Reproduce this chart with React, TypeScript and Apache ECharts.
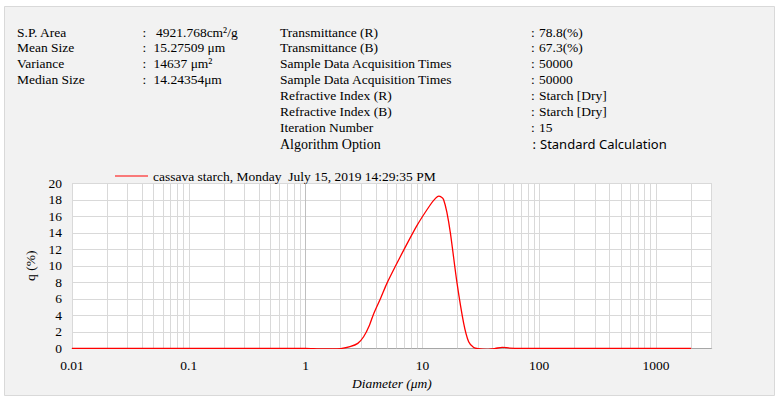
import React, { useEffect, useRef } from "react";
import * as echarts from "echarts";

const diameters = [0.01, 0.1, 1, 1.3, 1.7, 2.0, 2.4, 2.8, 3.14, 3.5, 3.83, 4.4, 4.98, 5.9, 6.92, 9.0, 11.7, 13.0, 13.8, 14.6, 15.2, 16.2, 17.4, 19.8, 22.6, 24.9, 27.5, 30, 35.8, 42, 48.2, 56, 70, 100, 2000];
const qValues = [0, 0, 0, -0.06, -0.08, -0.03, 0.2, 0.6, 1.4, 2.7, 4.2, 6.1, 7.9, 10.0, 11.9, 14.9, 17.4, 18.2, 18.45, 18.3, 18.0, 16.5, 13.9, 7.9, 3.0, 0.8, 0.1, -0.05, -0.12, -0.02, 0.12, 0.03, 0, 0, 0];
const seriesName = "cassava starch, Monday  July 15, 2019 14:29:35 PM";
const xTickLabels = ["0.01", "0.1", "1", "10", "100", "1000"];

const leftLabels = ["S.P. Area", "Mean Size", "Variance", "Median Size"];
const leftValues = ["4921.768cm²/g", "15.27509 μm", "14637 μm²", "14.24354μm"];
const rightLabels = [
  "Transmittance (R)",
  "Transmittance (B)",
  "Sample Data Acquisition Times",
  "Sample Data Acquisition Times",
  "Refractive Index (R)",
  "Refractive Index (B)",
  "Iteration Number",
  "Algorithm Option",
];
const rightValues = ["78.8(%)", "67.3(%)", "50000", "50000", "Starch [Dry]", "Starch [Dry]", "15", "Standard Calculation"];

const SERIF = "'Liberation Serif', 'Times New Roman', serif";
const SANS = "'Noto Sans', 'Open Sans', sans-serif";

export default function App() {
  const ref = useRef<HTMLDivElement>(null);
  useEffect(() => {
    if (!ref.current) return;
    const chart = echarts.init(ref.current, undefined, { renderer: "svg" });

    const minorValues: number[] = [];
    for (let e = -2; e <= 3; e++) {
      for (let k = 2; k <= 9; k++) {
        const v = k * Math.pow(10, e);
        if (v <= 3000) minorValues.push(v);
      }
    }

    const rowY = [32, 47.5, 63, 79, 95, 111, 127, 144];
    const graphics: any[] = [
      {
        type: "rect",
        z: -10,
        shape: { x: 4.5, y: 6.5, width: 770, height: 389 },
        style: { fill: "#f2f2f2", stroke: "#d9d9d9", lineWidth: 1 },
      },
    ];
    leftLabels.forEach((t, i) => {
      graphics.push({ type: "text", x: 17, y: rowY[i], style: { text: t, font: `13.5px ${SERIF}`, fill: "#000", verticalAlign: "middle" } });
      graphics.push({ type: "text", x: 142.5, y: rowY[i], style: { text: ":", font: `13.5px ${SERIF}`, fill: "#000", verticalAlign: "middle" } });
      graphics.push({ type: "text", x: i === 0 ? 156 : 153.5, y: rowY[i], style: { text: leftValues[i], font: `13.5px ${SERIF}`, fill: "#000", verticalAlign: "middle" } });
    });
    rightLabels.forEach((t, i) => {
      const last = i === rightLabels.length - 1;
      graphics.push({ type: "text", x: 280, y: rowY[i], style: { text: t, font: `${last ? 14 : 13.5}px ${SERIF}`, fill: "#000", verticalAlign: "middle" } });
      graphics.push({ type: "text", x: last ? 532.5 : 531, y: rowY[i], style: { text: ":", font: last ? `13px ${SANS}` : `13.5px ${SERIF}`, fill: "#000", verticalAlign: "middle" } });
      graphics.push({ type: "text", x: last ? 540 : 539, y: rowY[i], style: { text: rightValues[i], font: last ? `13px ${SANS}` : `13.5px ${SERIF}`, fill: "#000", verticalAlign: "middle" } });
    });

    chart.setOption({
      animation: false,
      backgroundColor: "#ffffff",
      graphic: graphics,
      legend: {
        left: 110,
        top: 164,
        itemWidth: 33,
        itemHeight: 1,
        itemGap: 5,
        icon: "rect",
        textStyle: { fontFamily: SERIF, fontSize: 13.5, color: "#000", padding: [0, 0, 0, 0] },
        data: [seriesName],
      },
      grid: {
        left: 72,
        top: 183.3,
        right: 69.3,
        bottom: 55.7,
        show: true,
        backgroundColor: "#ffffff",
        borderWidth: 0,
      },
      xAxis: {
        type: "log",
        logBase: 10,
        min: 0.01,
        max: 3000,
        name: "Diameter (μm)",
        nameLocation: "middle",
        nameGap: 28,
        nameTextStyle: { fontFamily: SERIF, fontSize: 13.5, fontStyle: "italic", color: "#000" },
        axisLine: { show: true, lineStyle: { color: "#a6a6a6", width: 1 } },
        axisTick: { show: false },
        axisLabel: {
          fontFamily: SERIF,
          fontSize: 13.5,
          color: "#000",
          margin: 10,
          showMaxLabel: false,
          formatter: (v: number) => {
            const e = Math.round(Math.log10(v));
            const lbl = xTickLabels[e + 2];
            return Math.abs(Math.log10(v) - e) < 1e-6 && lbl ? lbl : "";
          },
        },
        splitLine: { show: true, lineStyle: { color: "#d9d9d9", width: 1 } },
      },
      yAxis: {
        type: "value",
        min: 0,
        max: 20,
        interval: 2,
        name: "q (%)",
        nameLocation: "middle",
        nameGap: 29,
        nameTextStyle: { fontFamily: SERIF, fontSize: 13.5, color: "#000" },
        axisLine: { show: false },
        axisTick: { show: false },
        axisLabel: { fontFamily: SERIF, fontSize: 13.5, color: "#000", margin: 10 },
        splitLine: { show: true, lineStyle: { color: "#d9d9d9", width: 1 } },
      },
      series: [
        {
          type: "line",
          name: "grid-minor",
          data: [],
          z: 1,
          silent: true,
          markLine: {
            silent: true,
            symbol: ["none", "none"],
            label: { show: false },
            lineStyle: { color: "#d9d9d9", width: 1, type: "solid" },
            data: minorValues.map((v) => ({ xAxis: v })),
          },
        },
        {
          type: "line",
          name: "axis-cross",
          data: [],
          z: 1,
          silent: true,
          markLine: {
            silent: true,
            symbol: ["none", "none"],
            label: { show: false },
            lineStyle: { color: "#bfbfbf", width: 1, type: "solid" },
            data: [{ xAxis: 1 }],
          },
        },
        {
          type: "line",
          name: seriesName,
          data: diameters.map((d, i) => [d, qValues[i]]),
          smooth: 0.25,
          showSymbol: false,
          symbol: "none",
          z: 5,
          color: "#ff0000",
          lineStyle: { color: "#ff0000", width: 1.3 },
        },
      ],
    });
    return () => chart.dispose();
  }, []);

  return <div ref={ref} style={{ position: "fixed", left: 0, top: 0, width: 781, height: 404 }} />;
}
